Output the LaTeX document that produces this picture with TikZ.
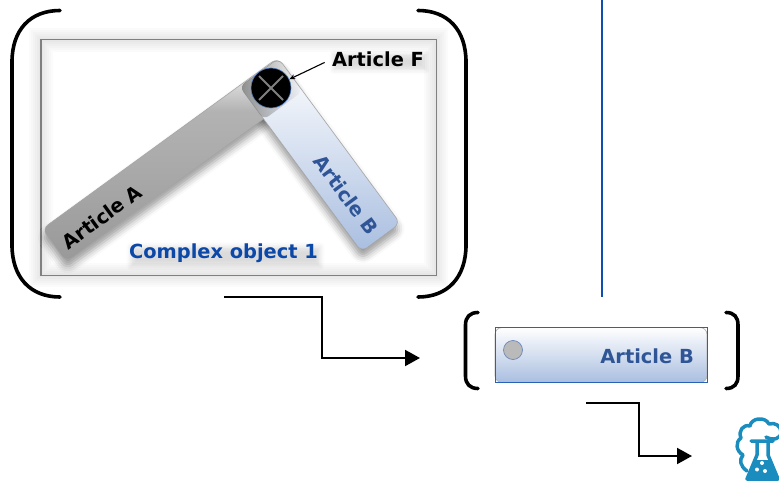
\documentclass[tikz,border=0pt]{standalone}
\usepackage{fontspec}
\setmainfont{DejaVu Sans}
\usetikzlibrary{arrows.meta,shapes.misc,fadings,shadows.blur}
\definecolor{barblue}{HTML}{2F5597}
\definecolor{palblue}{HTML}{A9BEE0}
\definecolor{objblue}{HTML}{0B48A8}
\definecolor{railblue}{HTML}{0F4FB0}
\definecolor{iconblue}{HTML}{1A8CBE}
\pgfdeclareverticalshading{barAshade}{100bp}{
  color(0bp)=(black!40); color(25bp)=(black!40); color(50bp)=(black!33);
  color(62bp)=(black!30); color(75bp)=(white); color(100bp)=(white)}

\begin{document}
\begin{tikzpicture}[x=1pt, y=-1pt,
    brk/.style={line width=3.6pt, black, line cap=round},
    flow/.style={-{Triangle[length=15pt,width=16pt]}, line width=2pt, black},
    ptr/.style={-{Stealth[length=6pt,width=5pt]}, line width=1.1pt, black},
    lbl/.style={font=\bfseries\fontsize{19.4}{22}\selectfont, inner sep=0pt},
    softlbl/.style={lbl, blur shadow={shadow xshift=2pt, shadow yshift=-3pt,
                    shadow blur radius=5pt, shadow opacity=14}},
    softdrop/.style={blur shadow={shadow xshift=0pt, shadow yshift=-7pt,
                     shadow blur radius=7pt, shadow opacity=40}},
    bar/.style={rounded corners=7pt, line width=.6pt, minimum height=#1, inner sep=0pt},
    ico/.style={iconblue, line width=3.5pt, line join=round, line cap=round}
  ]
  \useasboundingbox (0,0) rectangle (779,484);
  % --- Frame of complex object ---
  \node[minimum width=395pt, minimum height=235pt, inner sep=0pt] (frameObj) at (238.5,157.5) {};
  \foreach \w in {4,8,...,24}
    \draw[black, opacity=.014, line width=\w pt] (frameObj.south west) rectangle (frameObj.north east);
  \draw[black!50, line width=1.4pt] (frameObj.south west) rectangle (frameObj.north east);
  % --- Articles ---
  \node[bar=48pt, rotate=-53.6, minimum width=205pt, softdrop] (dropB) at (320,155) {};
  \node[bar=41pt, rotate=36, minimum width=291pt, draw=black!35, softdrop, shading=barAshade]
    (barA) at (172,160) {};
  \node[bar=48pt, rotate=-53.6, minimum width=205pt, draw=black!35, top color=white,
        bottom color=palblue] (barB) at (dropB) {};
  \node[minimum width=48pt, minimum height=41pt, rotate=36, inner sep=0pt, rounded corners=6pt,
        fill=black!45, path fading=east] (capA) at (271,89) {};
  \node[lbl, rotate=36, text=black] (nameA) at (102,217) {Article A};
  \node[lbl, rotate=-53.6, text=barblue] (nameB) at (346,195) {Article B};
  % --- Joint ---
  \node[circle, fill=black, draw=railblue!70, line width=.6pt, minimum size=40pt,
        inner sep=0pt] (joint) at (271,88) {};
  \node[cross out, draw=black!50, line width=1.8pt, minimum size=24pt, inner sep=0pt,
        outer sep=0pt] (jointX) at (joint) {};
  \node[softlbl, text=black] (nameF) at (378,59) {Article F};
  \draw[ptr, shorten <=8pt] (nameF.west) -- (joint);
  \node[softlbl, text=objblue] (nameObj) at (223.5,253.5) {Complex object 1};
  % --- Brackets of complex object ---
  \draw[brk] (60,10.5) .. controls (30,10.5) and (12,30) .. (12,62) -- (12,245)
    .. controls (12,277) and (30,297) .. (60,297);
  \draw[brk] (418,10.5) .. controls (448,10.5) and (466,30) .. (466,62) -- (466,245)
    .. controls (466,277) and (448,297) .. (418,297);
  % --- Divider ---
  \coordinate (railTop) at (601.5,0);
  \coordinate (railEnd) at (601.5,297);
  \draw[railblue, line width=2pt] (railTop) -- (railEnd);
  % --- Article B alone ---
  \node[minimum width=212pt, minimum height=55pt, inner sep=0pt, rounded corners=7pt,
        draw=black!30, line width=.7pt, top color=white, bottom color=palblue] (boxB) at (601,355) {};
  \node[draw=railblue!90, line width=.8pt, minimum width=212pt, minimum height=55pt,
        inner sep=0pt] (frameB) at (boxB) {};
  \node[circle, fill=black!27, draw=barblue!70, line width=.7pt, minimum size=19pt,
        inner sep=0pt] (dotB) at (513,350) {};
  \node[lbl, text=barblue, anchor=east] (nameBoxB) at (694,356) {Article B};
  \draw[brk] (478,312.5) .. controls (470,312.5) and (465.5,317) .. (465.5,325) -- (465.5,376)
    .. controls (465.5,384) and (470,388.5) .. (478,388.5);
  \draw[brk] (726,312.5) .. controls (734,312.5) and (738,317) .. (738,325) -- (738,376)
    .. controls (738,384) and (734,388.5) .. (726,388.5);
  % --- Connectors ---
  \coordinate (outObj) at (224,297);
  \coordinate (bendObj) at (322,328);
  \coordinate (inB) at (420,358);
  \draw[flow] (outObj) -| (bendObj) |- (inB);
  \coordinate (outB) at (586,403);
  \coordinate (bendB) at (639,430);
  \coordinate (inFlask) at (692,456);
  \draw[flow] (outB) -| (bendB) |- (inFlask);
  % --- Flask ---
  \draw[ico] (747,471) .. controls (740,466) and (739,460) .. (743,455)
    .. controls (736,451) and (735,442) .. (741,438) .. controls (738,431) and (743,424) .. (750,426)
    .. controls (751,418) and (765,416) .. (769,424) .. controls (775,422) and (781,426) .. (781,432)
    .. controls (781,439) and (773,441) .. (766,437);
  \draw[ico, fill=white] (751,441) -- (773,441) -- (768,441) -- (768,455) -- (778,479) -- (747,479)
    -- (757,455) -- (757,441) -- cycle;
  \fill[iconblue] (755,460) -- (770,460) -- (777,478) -- (748,478) -- cycle;
  \fill[white] (762,463) circle (2pt) (757,469.5) circle (2pt) (765,471) circle (2pt);
\end{tikzpicture}
\end{document}
